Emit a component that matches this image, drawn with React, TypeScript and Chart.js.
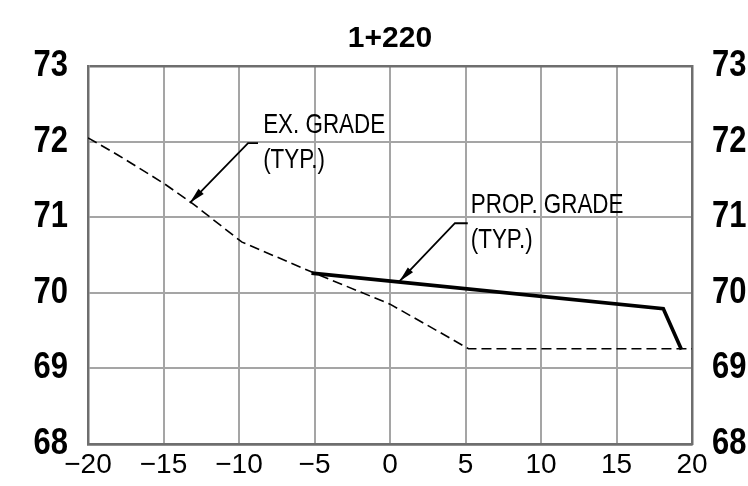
import React, { useEffect, useRef } from "react";
import { Chart, registerables } from "chart.js";

Chart.register(...registerables);

const titleText = "1+220";
const xTicksMin = -20;
const xTicksMax = 20;
const xStep = 5;
const yTicksMin = 68;
const yTicksMax = 73;
const yStep = 1;

// Existing grade (dashed)
const exOffsets = [-20, -18, -15, -13, -9.8, -5, 0, 3.1, 5.2, 20];
const exElevations = [72.05, 71.82, 71.45, 71.17, 70.67, 70.26, 69.85, 69.5, 69.26, 69.26];

// Proposed grade (solid heavy)
const propOffsets = [-5.2, 18.1, 19.3];
const propElevations = [70.26, 69.79, 69.25];

// Annotations (leader in data units: tip, elbow, end)
const exLabelLines = ["EX. GRADE", "(TYP.)"];
const exLeaderX = [-13.25, -9.4, -8.74];
const exLeaderY = [71.19, 71.98, 71.98];
const exLabelAt = [-8.4, 72.114];

const propLabelLines = ["PROP. GRADE", "(TYP.)"];
const propLeaderX = [0.62, 4.3, 5.15];
const propLeaderY = [70.15, 70.92, 70.92];
const propLabelAt = [5.35, 71.056];

const GRID = "rgb(165,165,165)";
const FRAME = "rgb(110,110,110)";
const SANS = "'Liberation Sans', Arial, sans-serif";

const fmt = (v: number) => (v < 0 ? "\u2212" + Math.abs(v) : String(v));

// draws horizontally condensed text (CAD-like narrow lettering)
function narrowText(ctx: any, t: string, x: number, y: number, sx: number) {
  ctx.save();
  ctx.translate(x, y);
  ctx.scale(sx, 1);
  ctx.fillText(t, 0, 0);
  ctx.restore();
}

const labelsPlugin = {
  id: "narrowLabels",
  afterDraw(chart: any) {
    const { ctx } = chart;
    const yl = chart.scales.y;
    const yr = chart.scales.y2;
    ctx.save();
    ctx.fillStyle = "#000";
    ctx.font = "bold 36px " + SANS;
    ctx.textBaseline = "middle";
    yl.ticks.forEach((t: any) => {
      const py = yl.getPixelForValue(t.value);
      ctx.textAlign = "right";
      narrowText(ctx, String(t.value), yl.right - 20, py, 0.86);
      ctx.textAlign = "left";
      narrowText(ctx, String(t.value), yr.left + 20, py, 0.86);
    });
    ctx.restore();
  },
};

const annotationPlugin = {
  id: "leaders",
  afterDatasetsDraw(chart: any) {
    const { ctx } = chart;
    const xs = chart.scales.x;
    const ys = chart.scales.y;
    const drawOne = (lx: number[], ly: number[], at: number[], lines: string[]) => {
      const px = lx.map((v) => xs.getPixelForValue(v));
      const py = ly.map((v) => ys.getPixelForValue(v));
      ctx.save();
      ctx.strokeStyle = "#000";
      ctx.fillStyle = "#000";
      ctx.lineWidth = 1.8;
      ctx.beginPath();
      ctx.moveTo(px[0], py[0]);
      for (let i = 1; i < px.length; i++) ctx.lineTo(px[i], py[i]);
      ctx.stroke();
      const ang = Math.atan2(py[1] - py[0], px[1] - px[0]);
      const len = 16;
      const hw = 3.6;
      const bx = px[0] + Math.cos(ang) * len;
      const by = py[0] + Math.sin(ang) * len;
      ctx.beginPath();
      ctx.moveTo(px[0], py[0]);
      ctx.lineTo(bx - Math.sin(ang) * hw, by + Math.cos(ang) * hw);
      ctx.lineTo(bx + Math.sin(ang) * hw, by - Math.cos(ang) * hw);
      ctx.closePath();
      ctx.fill();
      ctx.font = "28px " + SANS;
      ctx.textAlign = "left";
      ctx.textBaseline = "alphabetic";
      const tx = xs.getPixelForValue(at[0]);
      const ty = ys.getPixelForValue(at[1]);
      lines.forEach((t, i) => narrowText(ctx, t, tx, ty + i * 35, 0.8));
      ctx.restore();
    };
    drawOne(exLeaderX, exLeaderY, exLabelAt, exLabelLines);
    drawOne(propLeaderX, propLeaderY, propLabelAt, propLabelLines);
  },
};

export default function App() {
  const ref = useRef<HTMLCanvasElement | null>(null);
  useEffect(() => {
    document.body.style.margin = "0";
    const canvas = ref.current!;
    const exData = exOffsets.map((x, i) => ({ x, y: exElevations[i] }));
    const propData = propOffsets.map((x, i) => ({ x, y: propElevations[i] }));
    const chart = new Chart(canvas, {
      type: "line",
      data: {
        datasets: [
          {
            label: "EX. GRADE",
            data: exData,
            borderColor: "#000",
            borderWidth: 1.6,
            borderDash: [10, 5],
            pointRadius: 0,
            tension: 0,
            fill: false,
          },
          {
            label: "PROP. GRADE",
            data: propData,
            borderColor: "#000",
            borderWidth: 3.6,
            pointRadius: 0,
            tension: 0,
            fill: false,
            borderJoinStyle: "miter",
          },
        ],
      },
      options: {
        animation: false,
        responsive: true,
        maintainAspectRatio: false,
        layout: { padding: 0 },
        plugins: {
          legend: { display: false },
          tooltip: { enabled: false },
          title: {
            display: true,
            text: titleText,
            fullSize: false,
            color: "#000",
            font: { family: SANS, size: 30, weight: "bold", lineHeight: 1.2 },
            padding: { top: 21, bottom: 9 },
          },
        },
        scales: {
          x: {
            type: "linear",
            min: xTicksMin,
            max: xTicksMax,
            afterFit: (s: any) => {
              s.height = 42;
            },
            ticks: {
              stepSize: xStep,
              color: "#000",
              font: { family: SANS, size: 28 },
              padding: 4,
              callback: (v: any) => fmt(Number(v)),
            },
            grid: {
              color: (c: any) =>
                c.tick && (c.tick.value === xTicksMin || c.tick.value === xTicksMax) ? FRAME : GRID,
              lineWidth: 2,
              drawTicks: false,
            },
            border: { color: FRAME, width: 2.5 },
          },
          y: {
            type: "linear",
            position: "left",
            min: yTicksMin,
            max: yTicksMax,
            afterFit: (s: any) => {
              s.width = 88;
            },
            ticks: { stepSize: yStep, display: false },
            grid: {
              color: (c: any) =>
                c.tick && (c.tick.value === yTicksMin || c.tick.value === yTicksMax) ? FRAME : GRID,
              lineWidth: (c: any) =>
                c.tick && (c.tick.value === yTicksMin || c.tick.value === yTicksMax) ? 2.5 : 2,
              drawTicks: false,
            },
            border: { color: FRAME, width: 2.5 },
          },
          y2: {
            type: "linear",
            position: "right",
            min: yTicksMin,
            max: yTicksMax,
            afterFit: (s: any) => {
              s.width = 56;
            },
            ticks: { stepSize: yStep, display: false },
            grid: { drawOnChartArea: false, drawTicks: false },
            border: { color: FRAME, width: 2.5 },
          },
        },
      },
      plugins: [annotationPlugin, labelsPlugin],
    });
    return () => chart.destroy();
  }, []);
  return (
    <div style={{ position: "absolute", left: 0, top: 0, width: 748, height: 486 }}>
      <canvas ref={ref} />
    </div>
  );
}
